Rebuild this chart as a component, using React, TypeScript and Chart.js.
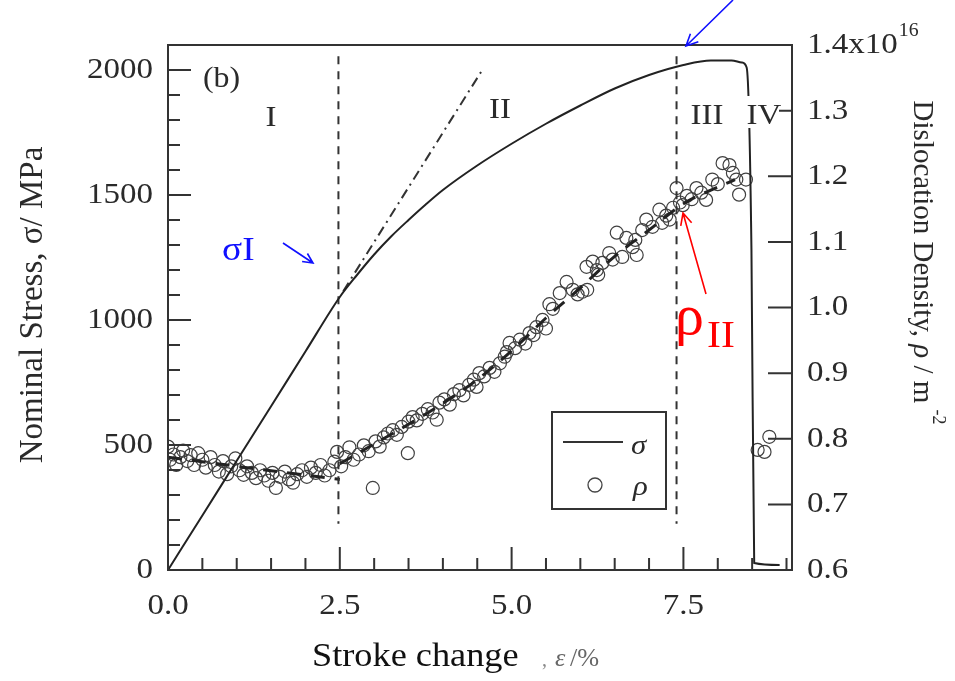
import React, { useEffect, useRef } from "react";
import { Chart, registerables } from "chart.js";

Chart.register(...registerables);

// ---- data ----
const stressStroke = [0, 0.5, 1.0, 1.5, 2.0, 2.5, 2.75, 3.0, 3.25, 3.5, 3.75, 4.0, 4.5, 5.0, 5.5, 6.0, 6.5, 7.0, 7.5, 7.9, 8.2, 8.35, 8.42, 8.49, 8.53, 8.9];
const stressMPa = [0, 218, 437, 655, 874, 1092, 1180, 1262, 1335, 1400, 1462, 1520, 1618, 1705, 1785, 1858, 1926, 1980, 2020, 2038, 2038, 2030, 2010, 1280, 28, 20];

const elasticStroke = [2.55, 4.58];
const elasticStress = [1115, 2003];

const boundaryStroke = [2.48, 7.4];
const boundaryStressTop = 2055;
const boundaryStressBottom = 185;

const rhoStroke = [
  0.00, 0.03, 0.08, 0.12, 0.18, 0.22, 0.28, 0.33, 0.38, 0.44, 0.50, 0.55, 0.62, 0.68, 0.74, 0.80, 0.86, 0.92, 0.98, 1.04,
  1.10, 1.15, 1.22, 1.28, 1.34, 1.40, 1.46, 1.52, 1.57, 1.63, 1.70, 1.76, 1.82, 1.88, 1.95, 2.02, 2.08, 2.15, 2.22, 2.28,
  2.35, 2.42, 2.46,
  2.52, 2.58, 2.64, 2.70, 2.78, 2.85, 2.92, 2.98, 3.02, 3.08, 3.14, 3.20, 3.27, 3.33, 3.40, 3.49, 3.50, 3.56, 3.62, 3.70,
  3.78, 3.85, 3.91, 3.95, 4.02, 4.10, 4.16, 4.24, 4.30, 4.38, 4.45, 4.49, 4.53, 4.60, 4.68, 4.75, 4.83, 4.90, 4.93, 4.97,
  5.05, 5.12, 5.20, 5.26, 5.32, 5.36, 5.45, 5.50, 5.55, 5.60, 5.70, 5.80, 5.89, 5.96, 6.03, 6.10, 6.09, 6.18, 6.24, 6.26,
  6.32, 6.42, 6.47, 6.53, 6.61, 6.67, 6.76, 6.80, 6.82, 6.90, 6.96, 7.05, 7.15, 7.19, 7.25, 7.30,
  7.35, 7.40, 7.45, 7.49, 7.55, 7.62, 7.69, 7.76, 7.83, 7.92, 8.00, 8.07, 8.17, 8.22, 8.27, 8.31, 8.41,
  8.58, 8.68, 8.75,
];
const rhoDensity = [
  0.788, 0.768, 0.776, 0.760, 0.772, 0.782, 0.766, 0.775, 0.760, 0.778, 0.768, 0.756, 0.772, 0.760, 0.750, 0.766, 0.746, 0.758, 0.770, 0.752,
  0.745, 0.758, 0.748, 0.740, 0.752, 0.744, 0.736, 0.748, 0.725, 0.742, 0.750, 0.738, 0.733, 0.746, 0.752, 0.742, 0.756, 0.748, 0.760, 0.744,
  0.752, 0.765, 0.780,
  0.758, 0.772, 0.787, 0.768, 0.776, 0.790, 0.781, 0.725, 0.796, 0.788, 0.802, 0.808, 0.813, 0.806, 0.818, 0.778, 0.826, 0.833, 0.828, 0.838,
  0.845, 0.840, 0.829, 0.855, 0.860, 0.852, 0.868, 0.874, 0.866, 0.882, 0.890, 0.879, 0.900, 0.895, 0.908, 0.902, 0.915, 0.925, 0.932, 0.946,
  0.938, 0.951, 0.945, 0.961, 0.958, 0.970, 0.981, 0.968, 1.005, 0.998, 1.022, 1.039, 1.027, 1.020, 1.024, 1.027, 1.062, 1.070, 1.057, 1.050,
  1.068, 1.083, 1.073, 1.114, 1.077, 1.106, 1.092, 1.103, 1.080, 1.118, 1.134, 1.123, 1.149, 1.129, 1.140, 1.134,
  1.152, 1.182, 1.160, 1.156, 1.170, 1.165, 1.182, 1.175, 1.164, 1.195, 1.188, 1.220, 1.217, 1.205, 1.195, 1.172, 1.195,
  0.783, 0.780, 0.803,
];

const fitStrokeA = [0.0, 1.0, 2.5];
const fitRhoA = [0.772, 0.758, 0.738];
const fitStrokeB = [2.5, 3.0, 3.5, 4.0, 4.5, 5.0, 5.5, 6.0, 6.5, 7.0, 7.5, 8.25];
const fitRhoB = [0.762, 0.792, 0.822, 0.854, 0.890, 0.934, 0.984, 1.030, 1.078, 1.118, 1.158, 1.195];

const xMin = 0, xMax = 9.08, xStep = 2.5, xMinor = 0.5;
const sMin = 0, sMax = 2100, sMinor = 100;
const stressTicks = [0, 500, 1000, 1500, 2000];
const rMin = 0.6, rMax = 1.4, rStep = 0.1;

const regionLabels = ["I", "II", "III", "IV"];

const FONT = '"Liberation Serif", "Times New Roman", serif';
const INK = "#2a2a2a";

function drawText(ctx: any, s: string, x: number, y: number, font: string, color: string, align = "left", baseline = "alphabetic", rot = 0, sx = 1.1) {
  ctx.save();
  ctx.translate(x, y);
  ctx.scale(sx, 1);
  ctx.rotate(rot);
  ctx.font = font;
  ctx.fillStyle = color;
  ctx.textAlign = align;
  ctx.textBaseline = baseline;
  ctx.fillText(s, 0, 0);
  ctx.restore();
}

function arrow(ctx: any, x1: number, y1: number, x2: number, y2: number, color: string, w: number, head: number) {
  ctx.save();
  ctx.strokeStyle = color;
  ctx.lineWidth = w;
  ctx.beginPath();
  ctx.moveTo(x1, y1);
  ctx.lineTo(x2, y2);
  const a = Math.atan2(y2 - y1, x2 - x1);
  ctx.moveTo(x2 - head * Math.cos(a - 0.45), y2 - head * Math.sin(a - 0.45));
  ctx.lineTo(x2, y2);
  ctx.lineTo(x2 - head * Math.cos(a + 0.45), y2 - head * Math.sin(a + 0.45));
  ctx.stroke();
  ctx.restore();
}

const overlay = {
  id: "overlay",
  afterDraw(chart: any) {
    const { ctx, chartArea: a, scales } = chart;
    const X = scales.x, Y = scales.y, R = scales.y2;
    ctx.save();
    // frame
    ctx.strokeStyle = "#333";
    ctx.lineWidth = 2;
    ctx.strokeRect(a.left, a.top, a.right - a.left, a.bottom - a.top);
    // inward ticks
    ctx.beginPath();
    for (let v = xMin; v <= xMax + 1e-9; v += xMinor) {
      const px = X.getPixelForValue(v);
      const major = Math.abs(v / xStep - Math.round(v / xStep)) < 1e-6;
      ctx.moveTo(px, a.bottom);
      ctx.lineTo(px, a.bottom - (major ? 23 : 12));
    }
    for (let v = sMin; v <= sMax + 1e-9; v += sMinor) {
      const py = Y.getPixelForValue(v);
      const major = stressTicks.includes(v);
      ctx.moveTo(a.left, py);
      ctx.lineTo(a.left + (major ? 23 : 12), py);
    }
    R.ticks.forEach((t: any) => {
      const py = R.getPixelForValue(t.value);
      ctx.moveTo(a.right, py);
      ctx.lineTo(a.right - 24, py);
    });
    ctx.stroke();

    // tick labels
    const tf = `30px ${FONT}`;
    X.ticks.forEach((t: any) => {
      drawText(ctx, t.value.toFixed(1), X.getPixelForValue(t.value), 614, tf, INK, "center", "alphabetic");
    });
    stressTicks.forEach((v) => {
      drawText(ctx, String(v), 153, Y.getPixelForValue(v), tf, INK, "right", "middle");
    });
    R.ticks.forEach((t: any) => {
      const py = R.getPixelForValue(t.value);
      const top = Math.abs(t.value - rMax) < 1e-6;
      const s = top ? "1.4x10" : t.value.toFixed(1);
      drawText(ctx, s, 807, py, tf, INK, "left", "middle");
      if (top) {
        ctx.font = tf;
        const w = ctx.measureText(s).width * 1.1;
        drawText(ctx, "16", 807 + w + 1, py - 9, `18px ${FONT}`, INK, "left", "alphabetic");
      }
    });

    // axis titles
    drawText(ctx, "Nominal Stress, σ/ MPa", 33, 305, `33px ${FONT}`, INK, "center", "middle", -Math.PI / 2, 1.05);
    {
      const f1 = `29px ${FONT}`, f2 = `italic 29px ${FONT}`;
      const parts: [string, string][] = [["Dislocation Density, ", f1], ["ρ", f2], [" / m", f1]];
      ctx.save();
      let total = 0;
      parts.forEach(([s, f]) => { ctx.font = f; total += ctx.measureText(s).width; });
      ctx.translate(922, 252);
      ctx.scale(1.05, 1);
      ctx.rotate(Math.PI / 2);
      ctx.fillStyle = INK;
      ctx.textBaseline = "middle";
      ctx.textAlign = "left";
      let x = -total / 2;
      parts.forEach(([s, f]) => { ctx.font = f; ctx.fillText(s, x, 0); x += ctx.measureText(s).width; });
      ctx.font = `18px ${FONT}`;
      ctx.fillText("-2", x + 6, -15);
      ctx.restore();
    }
    drawText(ctx, "Stroke change", 312, 666, `33px ${FONT}`, "#111", "left", "alphabetic", 0, 1.1);
    drawText(ctx, ",", 542, 666, `20px ${FONT}`, "#888", "left", "alphabetic", 0, 1.0);
    drawText(ctx, "ε", 555, 666, `italic 25px ${FONT}`, "#666", "left", "alphabetic", 0, 1.05);
    drawText(ctx, "/%", 570, 666, `25px ${FONT}`, "#666", "left", "alphabetic", 0, 1.05);

    // panel & region labels
    drawText(ctx, "(b)", 203, 87, `29px ${FONT}`, INK, "left", "alphabetic", 0, 1.1);
    ctx.fillStyle = "#fff";
    ctx.fillRect(745, 96, 34, 32);
    const rl = `30px ${FONT}`;
    const rx = [271, 500, 707, 764];
    const ry = [126, 118, 124, 124];
    regionLabels.forEach((s, i) => drawText(ctx, s, rx[i], ry[i], rl, INK, "center", "alphabetic", 0, 1.1));

    // legend
    ctx.strokeStyle = "#333";
    ctx.lineWidth = 2;
    ctx.strokeRect(552, 412, 114, 97);
    ctx.beginPath();
    ctx.moveTo(563, 442);
    ctx.lineTo(623, 442);
    ctx.stroke();
    drawText(ctx, "σ", 631, 454, `italic 28px ${FONT}`, INK, "left", "alphabetic", 0, 1.1);
    ctx.lineWidth = 1.3;
    ctx.strokeStyle = "#444";
    ctx.beginPath();
    ctx.arc(595, 485, 7, 0, Math.PI * 2);
    ctx.stroke();
    drawText(ctx, "ρ", 633, 495, `italic 28px ${FONT}`, INK, "left", "alphabetic", 0, 1.1);

    // blue annotations
    const blue = "#1010ff";
    drawText(ctx, "σI", 222, 260, `34px ${FONT}`, blue, "left", "alphabetic", 0, 1.1);
    arrow(ctx, 283, 243, 313, 263, blue, 1.6, 11);
    arrow(ctx, 733, 0, 686, 46, blue, 1.6, 13);

    // red annotations
    const red = "#ff0000";
    drawText(ctx, "ρ", 675, 334, `58px ${FONT}`, red, "left", "alphabetic", 0, 1.0);
    drawText(ctx, "II", 707, 347, `38px ${FONT}`, red, "left", "alphabetic", 0, 1.1);
    arrow(ctx, 706, 294, 683, 213, red, 1.6, 13);

    ctx.restore();
  },
};

export default function App() {
  const ref = useRef<HTMLCanvasElement | null>(null);
  useEffect(() => {
    if (!ref.current) return;
    const pts = (xs: number[], ys: number[]) => xs.map((x, i) => ({ x, y: ys[i] }));
    const fitData: any[] = [...pts(fitStrokeA, fitRhoA), { x: 2.5, y: null }, ...pts(fitStrokeB, fitRhoB)];
    const chart = new Chart(ref.current, {
      type: "scatter",
      data: {
        datasets: [
          {
            label: "σ",
            data: pts(stressStroke, stressMPa),
            yAxisID: "y",
            showLine: true,
            borderColor: "#222",
            borderWidth: 2,
            pointRadius: 0,
            cubicInterpolationMode: "monotone",
          } as any,
          {
            label: "elastic",
            data: pts(elasticStroke, elasticStress),
            yAxisID: "y",
            showLine: true,
            borderColor: "#333",
            borderWidth: 2,
            borderDash: [10, 5, 2, 5],
            pointRadius: 0,
          },
          ...boundaryStroke.map((bx) => ({
            label: "boundary",
            data: [{ x: bx, y: boundaryStressTop }, { x: bx, y: boundaryStressBottom }],
            yAxisID: "y",
            showLine: true,
            borderColor: "#333",
            borderWidth: 2,
            borderDash: [8, 7],
            pointRadius: 0,
          })),
          {
            label: "fit",
            data: fitData,
            yAxisID: "y2",
            showLine: true,
            spanGaps: false,
            borderColor: "#222",
            borderWidth: 3,
            borderDash: [14, 10],
            pointRadius: 0,
            cubicInterpolationMode: "monotone",
          } as any,
          {
            label: "ρ",
            data: pts(rhoStroke, rhoDensity),
            yAxisID: "y2",
            showLine: false,
            pointStyle: "circle",
            pointRadius: 6.5,
            borderColor: "#404040",
            borderWidth: 1.2,
            backgroundColor: "rgba(0,0,0,0)",
          },
        ],
      },
      options: {
        animation: false,
        responsive: false,
        devicePixelRatio: 1,
        layout: { padding: { top: 45, left: 0, right: 0, bottom: 0 } },
        plugins: { legend: { display: false }, tooltip: { enabled: false } },
        scales: {
          x: {
            type: "linear",
            min: xMin,
            max: xMax,
            ticks: { display: false, stepSize: xStep, includeBounds: false },
            grid: { display: false },
            border: { display: false },
            afterFit: (s: any) => { s.height = 111; },
          },
          y: {
            type: "linear",
            position: "left",
            min: sMin,
            max: sMax,
            ticks: { display: false },
            grid: { display: false },
            border: { display: false },
            afterFit: (s: any) => { s.width = 168; },
          },
          y2: {
            type: "linear",
            position: "right",
            min: rMin,
            max: rMax,
            ticks: { display: false, stepSize: rStep },
            grid: { display: false },
            border: { display: false },
            afterFit: (s: any) => { s.width = 163; },
          },
        },
      } as any,
      plugins: [overlay],
    });
    return () => chart.destroy();
  }, []);
  return (
    <div style={{ position: "absolute", left: 0, top: 0, width: 955, height: 681, background: "#fff" }}>
      <canvas ref={ref} width={955} height={681} style={{ width: 955, height: 681, display: "block" }} />
    </div>
  );
}
